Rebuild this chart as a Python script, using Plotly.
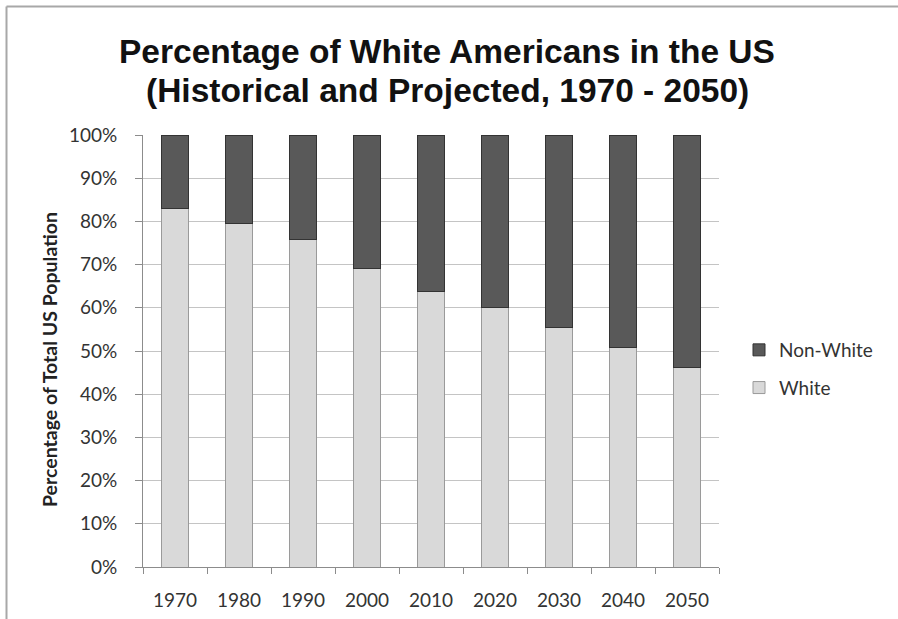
import plotly.graph_objects as go

# Share of the total US population, by decade (percent)
years = ["1970", "1980", "1990", "2000", "2010", "2020", "2030", "2040", "2050"]
white = [83.0, 79.6, 75.7, 69.0, 63.8, 60.1, 55.4, 50.7, 46.1]
non_white = [round(100 - w, 1) for w in white]

y_ticks = [0, 10, 20, 30, 40, 50, 60, 70, 80, 90, 100]
y_tick_text = [f"{v}%" for v in y_ticks]

title_lines = [
    "Percentage of White Americans in the US",
    "(Historical and Projected, 1970 - 2050)",
]

W, H = 898, 619
M_L, M_R, M_T, M_B = 143, 179, 135, 52
PW, PH = W - M_L - M_R, H - M_T - M_B


def px_x(px):
    return (px - M_L) / PW


def px_y(py):
    return (H - M_B - py) / PH


fig = go.Figure()
fig.add_trace(go.Bar(
    x=years, y=white, name="White", legendgroup="w", legendrank=2,
    marker=dict(color="#d9d9d9", line=dict(color="#9a9a9a", width=1)),
))
fig.add_trace(go.Bar(
    x=years, y=non_white, name="Non-White", legendgroup="nw", legendrank=1,
    marker=dict(color="#595959", line=dict(color="#333333", width=1)),
))

title_font = dict(family="Liberation Sans, Arial, sans-serif", size=33.5, color="#111111")
annotations = [
    dict(text=f"<b>{line}</b>", x=px_x(447), xref="paper", xanchor="center",
         y=px_y(cy), yref="paper", yanchor="middle", showarrow=False,
         font=title_font)
    for line, cy in zip(title_lines, [51.5, 90.5])
]
annotations.append(dict(
    text="<b>Percentage of Total US Population</b>",
    x=px_x(49), y=px_y(360), xref="paper", yref="paper",
    xanchor="center", yanchor="middle", textangle=-90, showarrow=False,
    font=dict(size=19.5, color="#222222"),
))

fig.update_layout(
    width=W, height=H,
    barmode="stack", bargap=0.59,
    margin=dict(l=M_L, r=M_R, t=M_T, b=M_B, autoexpand=False),
    paper_bgcolor="white", plot_bgcolor="white",
    font=dict(family="Lato, Open Sans, sans-serif", color="#404040", size=19),
    showlegend=True,
    legend=dict(
        x=px_x(739), y=px_y(331), xanchor="left", yanchor="top",
        traceorder="grouped", tracegroupgap=10,
        font=dict(size=19, color="#333333"),
        itemwidth=30, bgcolor="rgba(0,0,0,0)",
    ),
    xaxis=dict(
        type="category", showgrid=False, automargin=False,
        showline=True, linecolor="#8c8c8c", linewidth=1,
        ticks="outside", tickson="boundaries", ticklen=6, tickcolor="#8c8c8c",
        ticklabelstandoff=16,
        tickfont=dict(size=19, color="#333333"),
    ),
    yaxis=dict(
        range=[0, 100], tickvals=y_ticks, ticktext=y_tick_text,
        automargin=False,
        showgrid=True, gridcolor="#c4c4c4", gridwidth=1,
        showline=True, linecolor="#8c8c8c", linewidth=1,
        ticks="outside", ticklen=7, tickcolor="#8c8c8c",
        ticklabelstandoff=14,
        tickfont=dict(size=19, color="#333333"),
        zeroline=False,
    ),
    annotations=annotations,
    shapes=[
        dict(type="line", xref="paper", yref="paper",
             x0=px_x(6.5), x1=px_x(W), y0=px_y(6.5), y1=px_y(6.5),
             line=dict(color="#a8a8a8", width=2)),
        dict(type="line", xref="paper", yref="paper",
             x0=px_x(6.5), x1=px_x(6.5), y0=px_y(6.5), y1=px_y(H),
             line=dict(color="#a8a8a8", width=2)),
    ],
)

fig.write_html("out.html")
